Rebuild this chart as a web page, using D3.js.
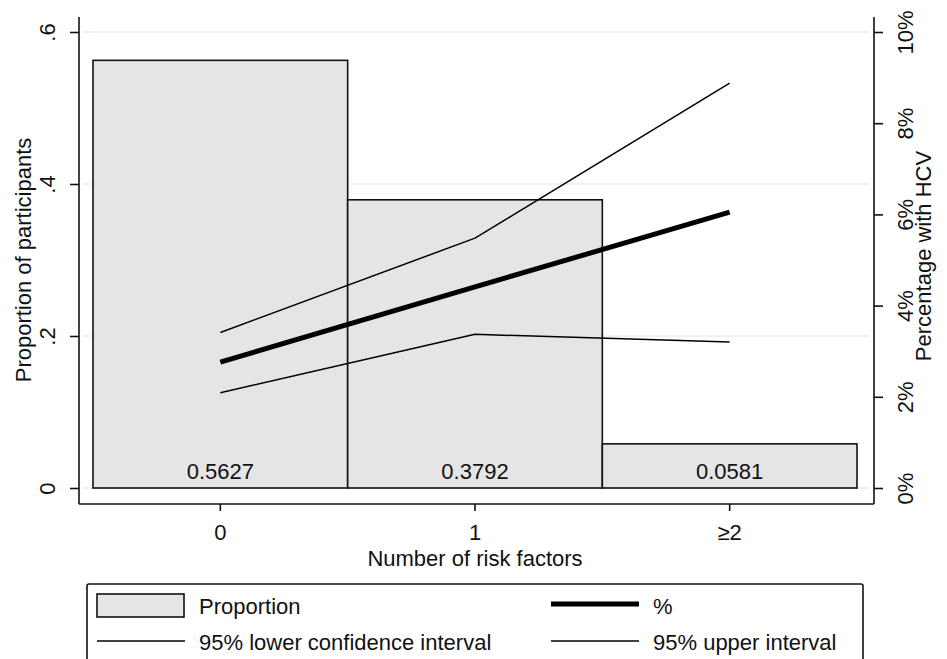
<!DOCTYPE html>
<html>
<head>
<meta charset="utf-8">
<script src="https://cdn.jsdelivr.net/npm/d3@7"></script>
<style>
  body { margin: 0; background: #fff; }
  svg { display: block; font-family: "Liberation Sans", Arial, sans-serif; }
  text { fill: #111; }
</style>
</head>
<body>
<div id="chart"></div>
<script>
// categories and values
const categories = ["0", "1", "≥2"];
const proportion = [0.5627, 0.3792, 0.0581];
const pctHCV = [2.76, 4.41, 6.05];
const lowerCI = [2.09, 3.37, 3.20];
const upperCI = [3.41, 5.48, 8.88];

const leftTicks = [0, 0.2, 0.4, 0.6];
const rightTicks = [0, 2, 4, 6, 8, 10];

const width = 947, height = 659;
const fontSize = 22;

const svg = d3.select("#chart").append("svg")
    .attr("width", width)
    .attr("height", height);

// plot frame
const frame = { left: 79, right: 874, top: 17, bottom: 504 };

const x = d3.scaleBand()
    .domain(categories)
    .range([93, 857])
    .padding(0);

const yL = d3.scaleLinear().domain([0, 0.6]).range([488, 32]);
const yR = d3.scaleLinear().domain([0, 10]).range([488, 32]);

// gridlines
svg.append("g")
    .selectAll("line")
    .data(leftTicks)
    .enter().append("line")
    .attr("x1", frame.left + 4)
    .attr("x2", frame.right - 5)
    .attr("y1", d => yL(d))
    .attr("y2", d => yL(d))
    .style("stroke", "#e6eff0")
    .style("stroke-width", 1.5);

// bars
svg.append("g")
    .selectAll("rect")
    .data(proportion)
    .enter().append("rect")
    .attr("x", (d, i) => x(categories[i]))
    .attr("y", d => yL(d))
    .attr("width", x.bandwidth())
    .attr("height", d => yL(0) - yL(d))
    .style("fill", "#e5e5e5")
    .style("stroke", "#111")
    .style("stroke-width", 1.6);

// bar value labels
svg.append("g")
    .selectAll("text")
    .data(proportion)
    .enter().append("text")
    .attr("x", (d, i) => x(categories[i]) + x.bandwidth() / 2)
    .attr("y", yL(0) - 9)
    .attr("text-anchor", "middle")
    .style("font-size", fontSize + "px")
    .text(d => d.toFixed(4));

// lines on right axis
const line = d3.line()
    .x((d, i) => x(categories[i]) + x.bandwidth() / 2)
    .y(d => yR(d));

const series = [
    { values: lowerCI, w: 1.5 },
    { values: upperCI, w: 1.5 },
    { values: pctHCV, w: 5 }
];

svg.append("g")
    .selectAll("path")
    .data(series)
    .enter().append("path")
    .attr("d", d => line(d.values))
    .style("fill", "none")
    .style("stroke", "#000")
    .style("stroke-width", d => d.w)
    .style("stroke-linejoin", "round");

// axes
const leftAxis = svg.append("g")
    .attr("transform", `translate(${frame.left},0)`)
    .call(d3.axisLeft(yL).tickValues(leftTicks).tickSize(9).tickSizeOuter(0)
        .tickFormat(d => d === 0 ? "0" : d3.format(".1f")(d).replace(/^0/, "")));

const rightAxis = svg.append("g")
    .attr("transform", `translate(${frame.right},0)`)
    .call(d3.axisRight(yR).tickValues(rightTicks).tickSize(9).tickSizeOuter(0)
        .tickFormat(d => d + "%"));

const bottomAxis = svg.append("g")
    .attr("transform", `translate(0,${frame.bottom})`)
    .call(d3.axisBottom(x).tickSize(7).tickSizeOuter(0));

[leftAxis, rightAxis, bottomAxis].forEach(g => {
    g.select(".domain").remove();
    g.selectAll(".tick line").style("stroke", "#111").style("stroke-width", 1.6);
    g.selectAll("text")
        .style("font-size", fontSize + "px")
        .style("font-family", "Liberation Sans, Arial, sans-serif")
        .attr("fill", "#111");
});

leftAxis.selectAll(".tick text")
    .attr("x", null).attr("dy", null)
    .attr("text-anchor", "middle")
    .attr("transform", "translate(-24,0) rotate(-90)");

rightAxis.selectAll(".tick text")
    .attr("x", null).attr("dy", null)
    .attr("text-anchor", "middle")
    .attr("transform", "translate(39,0) rotate(-90)");

bottomAxis.selectAll(".tick text")
    .attr("y", 36).attr("dy", null);

// frame lines
const axisLines = [
    [frame.left, frame.top, frame.left, frame.bottom],
    [frame.right, frame.top, frame.right, frame.bottom],
    [frame.left, frame.bottom, frame.right, frame.bottom]
];
svg.append("g")
    .selectAll("line")
    .data(axisLines)
    .enter().append("line")
    .attr("x1", d => d[0]).attr("y1", d => d[1])
    .attr("x2", d => d[2]).attr("y2", d => d[3])
    .style("stroke", "#111")
    .style("stroke-width", 1.6);

// axis titles
svg.append("text")
    .attr("transform", "translate(31,260) rotate(-90)")
    .attr("text-anchor", "middle")
    .style("font-size", fontSize + "px")
    .text("Proportion of participants");

svg.append("text")
    .attr("transform", "translate(931,256) rotate(-90)")
    .attr("text-anchor", "middle")
    .style("font-size", fontSize + "px")
    .text("Percentage with HCV");

svg.append("text")
    .attr("x", x("1") + x.bandwidth() / 2)
    .attr("y", 566)
    .attr("text-anchor", "middle")
    .style("font-size", fontSize + "px")
    .text("Number of risk factors");

// legend
const legendItems = [
    { label: "Proportion", kind: "bar", col: 0, row: 0 },
    { label: "%", kind: "thick", col: 1, row: 0 },
    { label: "95% lower confidence interval", kind: "thin", col: 0, row: 1 },
    { label: "95% upper interval", kind: "thin", col: 1, row: 1 }
];

const legend = svg.append("g");
legend.append("rect")
    .attr("x", 87).attr("y", 584)
    .attr("width", 776).attr("height", 100)
    .attr("rx", 2)
    .style("fill", "#fff")
    .style("stroke", "#111")
    .style("stroke-width", 1.6);

const colX = [97, 551];
const rowY = [605, 641];

const item = legend.selectAll("g.item")
    .data(legendItems)
    .enter().append("g")
    .attr("class", "item")
    .attr("transform", d => `translate(${colX[d.col]},${rowY[d.row]})`);

item.filter(d => d.kind === "bar").append("rect")
    .attr("x", 0).attr("y", -11)
    .attr("width", 87).attr("height", 23)
    .style("fill", "#e5e5e5")
    .style("stroke", "#111")
    .style("stroke-width", 1.6);

item.filter(d => d.kind !== "bar").append("line")
    .attr("x1", 0).attr("x2", 88)
    .attr("y1", d => d.kind === "thick" ? -1 : 0)
    .attr("y2", d => d.kind === "thick" ? -1 : 0)
    .style("stroke", "#000")
    .style("stroke-width", d => d.kind === "thick" ? 5 : 1.5);

item.append("text")
    .attr("x", 102)
    .attr("y", 9)
    .style("font-size", fontSize + "px")
    .text(d => d.label);
</script>
</body>
</html>
